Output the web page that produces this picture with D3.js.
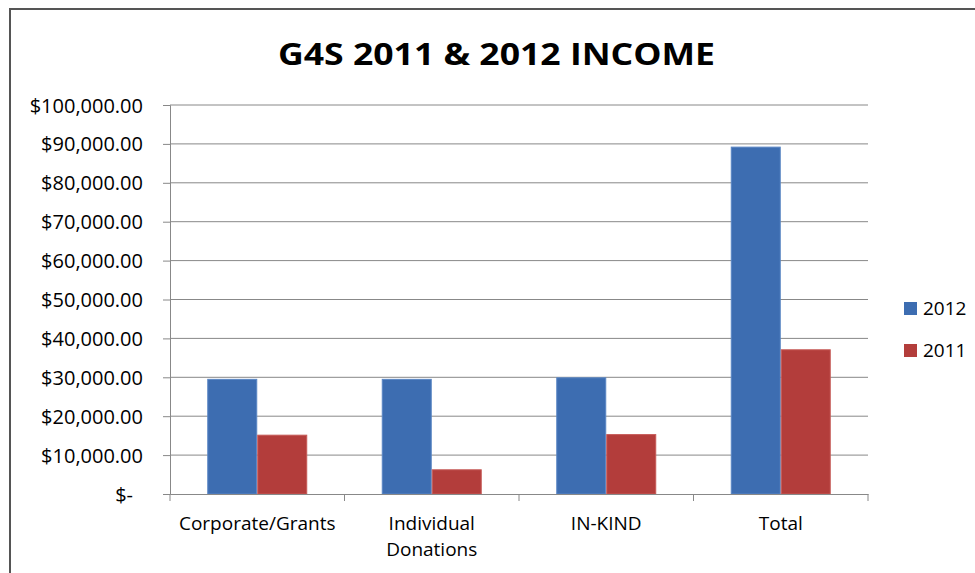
<!DOCTYPE html>
<html>
<head>
<meta charset="utf-8">
<script src="https://cdn.jsdelivr.net/npm/d3@7"></script>
<style>
  html, body { margin: 0; padding: 0; background: #fff; }
  svg { display: block; font-family: "Open Sans", sans-serif; }
</style>
</head>
<body>
<div id="chart"></div>
<script>
// values
var categories = ["Corporate/Grants", "Individual Donations", "IN-KIND", "Total"];
var series = ["2012", "2011"];
var values2012 = [29600, 29600, 30000, 89300];
var values2011 = [15250, 6350, 15400, 37200];
var yTicks = [0, 10000, 20000, 30000, 40000, 50000, 60000, 70000, 80000, 90000, 100000];
var colors = ["#3D6DB1", "#B33D3B"];
var edges = ["#5A86C4", "#C65A57"];

var width = 975, height = 573;
var svg = d3.select("#chart").append("svg")
    .attr("width", width).attr("height", height);

// chart area border (top and left visible, the rest runs off the picture)
svg.append("rect")
    .attr("x", 10).attr("y", 9)
    .attr("width", width + 20).attr("height", height + 20)
    .attr("fill", "none")
    .attr("stroke", "#555")
    .attr("stroke-width", 2);

var plotLeft = 170, plotRight = 868, plotTop = 105, plotBottom = 494;

var y = d3.scaleLinear().domain([0, 100000]).range([plotBottom, plotTop]);
var x = d3.scaleBand().domain(categories).range([plotLeft, plotRight]).padding(0);
var xSub = d3.scaleBand().domain(series)
    .range([x.bandwidth() * 0.2135, x.bandwidth() * 0.7865]).padding(0);

// title
svg.append("text")
    .attr("x", 496.5).attr("y", 65)
    .attr("text-anchor", "middle")
    .attr("font-weight", "bold")
    .attr("font-size", 30)
    .attr("textLength", 437)
    .attr("lengthAdjust", "spacingAndGlyphs")
    .attr("fill", "#000")
    .text("G4S 2011 & 2012 INCOME");

// gridlines
svg.append("g").selectAll("line")
    .data(yTicks.filter(function(d){ return d > 0; }))
    .enter().append("line")
    .attr("x1", plotLeft).attr("x2", plotRight)
    .attr("y1", function(d){ return y(d); })
    .attr("y2", function(d){ return y(d); })
    .attr("stroke", "#888")
    .attr("stroke-width", 1);

// y axis
var fmt = d3.format("$,.2f");
var yAxis = svg.append("g")
    .attr("transform", "translate(" + plotLeft + ",0)")
    .call(d3.axisLeft(y).tickValues(yTicks).tickSize(7).tickPadding(20)
        .tickFormat(function(d){ return d === 0 ? "$-" : fmt(d); }));
yAxis.select(".domain").attr("stroke", "#888");
yAxis.selectAll(".tick line").attr("stroke", "#888");
yAxis.selectAll(".tick text")
    .attr("font-size", 20)
    .attr("fill", "#000")
    .attr("font-family", "Open Sans, sans-serif")
    .attr("dy", "0.35em");
yAxis.selectAll(".tick").filter(function(d){ return d === 0; })
    .select("text").attr("dx", -10);

// bars
var rows = categories.map(function(c, i){
    return { cat: c, vals: [values2012[i], values2011[i]] };
});
var groups = svg.append("g").selectAll("g")
    .data(rows).enter().append("g")
    .attr("transform", function(d){ return "translate(" + x(d.cat) + ",0)"; });
groups.selectAll("rect")
    .data(function(d){ return d.vals.map(function(v, j){ return { s: series[j], v: v, j: j }; }); })
    .enter().append("rect")
    .attr("x", function(d){ return xSub(d.s) + 0.5; })
    .attr("width", xSub.bandwidth() - 1)
    .attr("y", function(d){ return y(d.v) + 0.5; })
    .attr("height", function(d){ return plotBottom - y(d.v) - 0.5; })
    .attr("fill", function(d){ return colors[d.j]; })
    .attr("stroke", function(d){ return edges[d.j]; })
    .attr("stroke-width", 1);

// x axis
var xAxis = svg.append("g")
    .attr("transform", "translate(0," + plotBottom + ")")
    .call(d3.axisBottom(x).tickSize(0).tickFormat(""));
xAxis.select(".domain").attr("stroke", "#888");
xAxis.selectAll(".tick").remove();
svg.append("g").selectAll("line")
    .data(d3.range(categories.length + 1))
    .enter().append("line")
    .attr("x1", function(i){ return plotLeft + i * x.step(); })
    .attr("x2", function(i){ return plotLeft + i * x.step(); })
    .attr("y1", plotBottom).attr("y2", plotBottom + 7)
    .attr("stroke", "#888");

// category labels
var catLabels = svg.append("g").selectAll("text")
    .data(categories).enter().append("text")
    .attr("x", function(d){ return x(d) + x.bandwidth() / 2; })
    .attr("y", 530)
    .attr("text-anchor", "middle")
    .attr("font-size", 19)
    .attr("fill", "#000");
catLabels.each(function(d){
    var t = d3.select(this);
    var parts = d === "Individual Donations" ? ["Individual", "Donations"] : [d];
    parts.forEach(function(p, k){
        t.append("tspan")
            .attr("x", x(d) + x.bandwidth() / 2)
            .attr("dy", k === 0 ? 0 : 26)
            .text(p);
    });
});

// legend
var legend = svg.append("g").selectAll("g")
    .data(series).enter().append("g")
    .attr("transform", function(d, i){ return "translate(904," + (302 + i * 42) + ")"; });
legend.append("rect")
    .attr("width", 13).attr("height", 13)
    .attr("fill", function(d, i){ return colors[i]; });
legend.append("text")
    .attr("x", 19).attr("y", 13)
    .attr("font-size", 19)
    .attr("fill", "#000")
    .text(function(d){ return d; });
</script>
</body>
</html>
